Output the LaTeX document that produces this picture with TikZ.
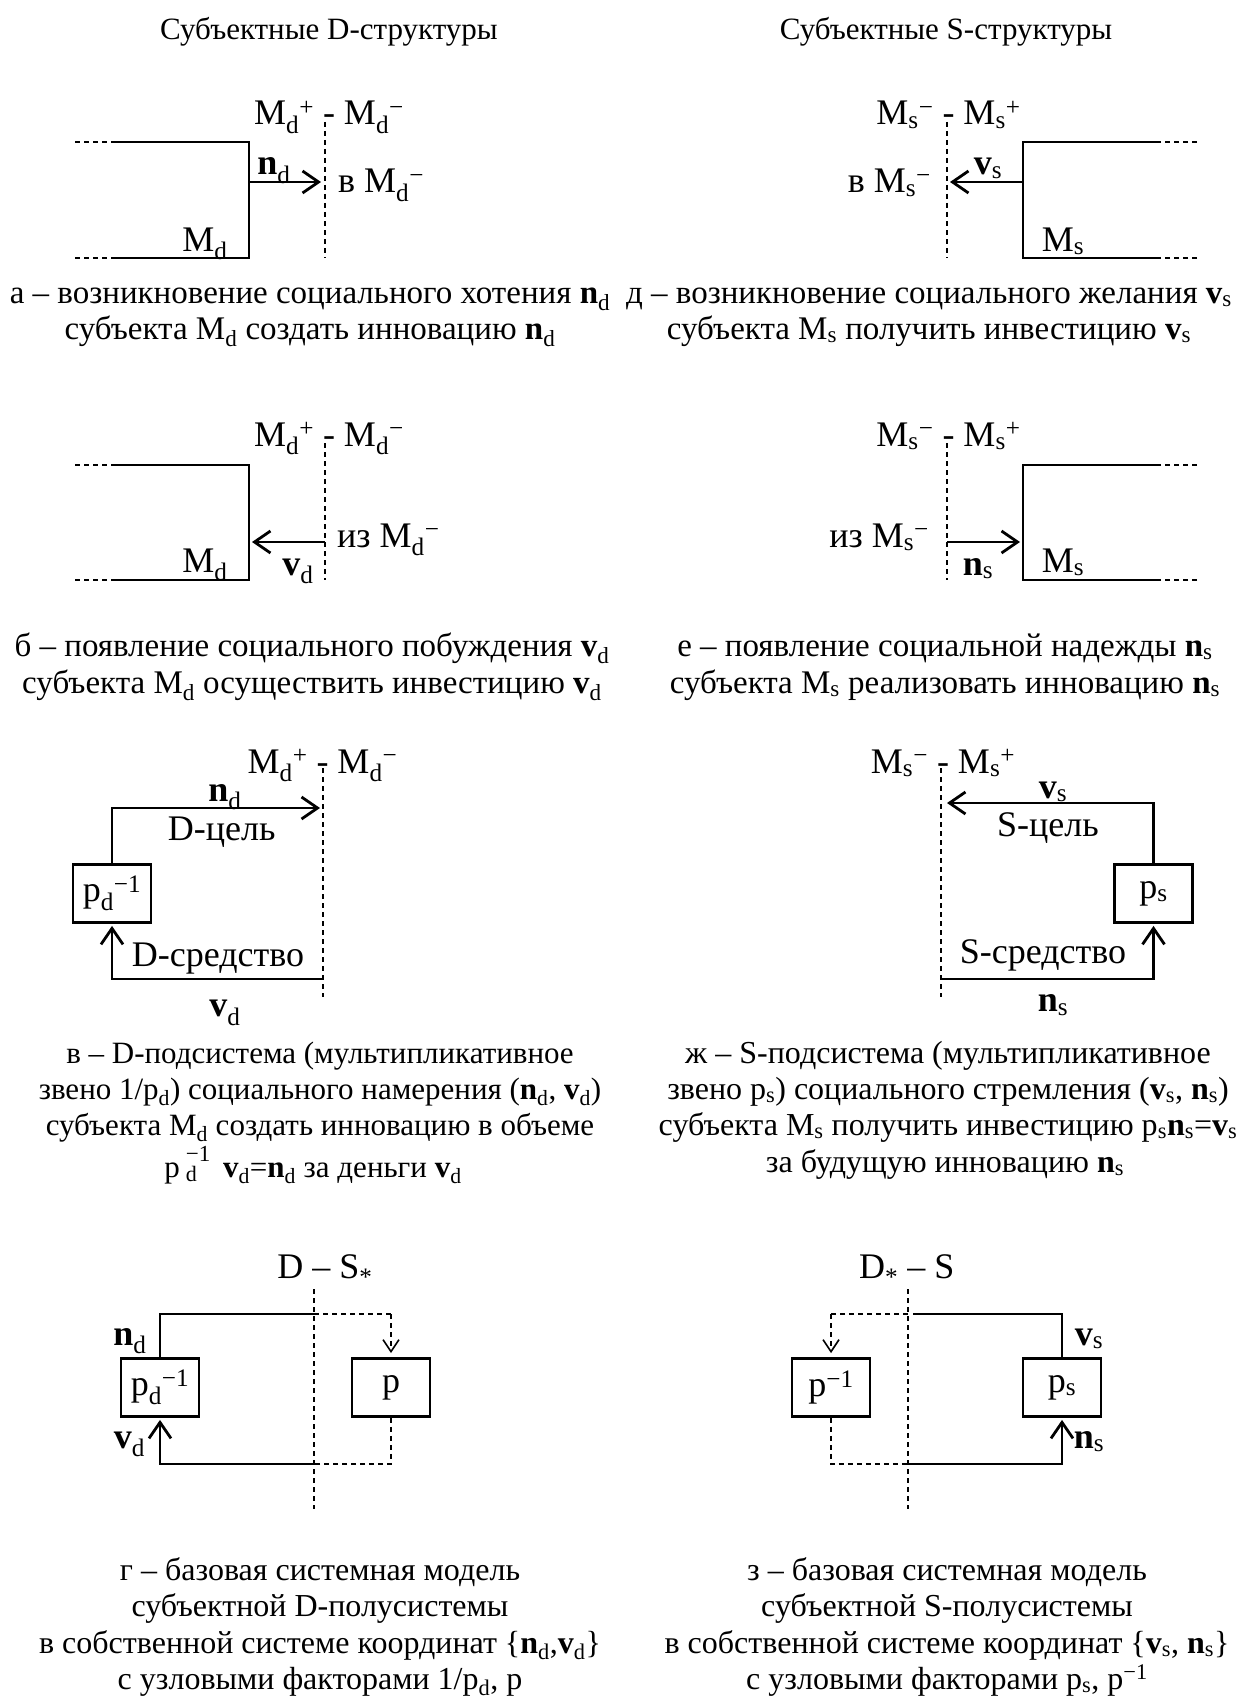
\documentclass[tikz,border=0pt]{standalone}
\usepackage{fontspec}
\setmainfont{Liberation Serif}
\usetikzlibrary{arrows.meta}
\newcommand{\sbs}[1]{\textsubscript{#1}}
\newcommand{\sps}[1]{\textsuperscript{#1}}
\newcommand{\bn}{\textbf{n}}
\newcommand{\bv}{\textbf{v}}
\newcommand{\smallfs}{\fontsize{22}{22}\selectfont}
\newcommand{\supfs}{\fontsize{23}{23}\selectfont}
\begin{document}
\begin{tikzpicture}[x=1pt,y=-1pt,
  sl/.style={line width=2.8pt},
  dl/.style={line width=1.2pt, dash pattern=on 5pt off 4pt},
  ar/.style={-{Straight Barb[length=16pt,width=22pt]}},
  dar/.style={-{Straight Barb[length=12pt,width=16pt,line width=1.6pt]}},
  lb/.style={inner sep=0pt, anchor=base, font=\fontsize{36}{42}\selectfont},
  cp/.style={inner sep=0pt, anchor=base, font=\fontsize{33}{38}\selectfont},
  cpv/.style={inner sep=0pt, anchor=base, font=\fontsize{31}{36}\selectfont},
  cpg/.style={inner sep=0pt, anchor=base, font=\fontsize{32}{37}\selectfont},
  hd/.style={inner sep=0pt, anchor=base, font=\fontsize{31}{36}\selectfont},
  bx/.style={draw, line width=2.8pt, minimum width=78pt, minimum height=58pt, inner sep=0pt, font=\fontsize{36}{42}\selectfont}
]
\useasboundingbox (0,0) rectangle (1238,1699);
\fill[white] (0,0) rectangle (1238,1699);

% headers
\node[hd] (h1) at (329,40) {Субъектные D-структуры};
\node[hd] (h2) at (946,40) {Субъектные S-структуры};

% ---------- panel a ----------
\coordinate (a1) at (75,142); \coordinate (a2) at (113,142); \coordinate (a3) at (249,142);
\coordinate (a4) at (249,258); \coordinate (a5) at (113,258); \coordinate (a6) at (75,258);
\draw[dl] (a1)--(a2); \draw[dl] (a6)--(a5);
\draw[sl] (a2)--(a3)--(a4)--(a5);
\coordinate (a7) at (249,182); \coordinate (a8) at (321,182);
\draw[sl,ar] (a7)--(a8);
\coordinate (a9) at (325,122); \coordinate (a10) at (325,258);
\draw[dl] (a9)--(a10);
\node[lb] (al1) at (329,125) {M\sbs{d}\sps{+} - M\sbs{d}\sps{−}};
\node[lb] (al2) at (274,175) {\bn\sbs{d}};
\node[lb, anchor=base west] (al3) at (338,193) {в M\sbs{d}\sps{−}};
\node[lb] (al4) at (205,251) {M\sbs{d}};
\node[cp] (ac1) at (310,303) {а – возникновение социального хотения \bn\sbs{d}};
\node[cp] (ac2) at (310,339) {субъекта M\sbs{d} создать инновацию \bn\sbs{d}};

% ---------- panel d ----------
\coordinate (d1) at (1197,142); \coordinate (d2) at (1158,142); \coordinate (d3) at (1023,142);
\coordinate (d4) at (1023,258); \coordinate (d5) at (1158,258); \coordinate (d6) at (1197,258);
\draw[dl] (d1)--(d2); \draw[dl] (d6)--(d5);
\draw[sl] (d2)--(d3)--(d4)--(d5);
\coordinate (d7) at (1023,182); \coordinate (d8) at (950,182);
\draw[sl,ar] (d7)--(d8);
\coordinate (d9) at (947,122); \coordinate (d10) at (947,258);
\draw[dl] (d9)--(d10);
\node[lb] (dl1) at (948.5,125) {M\sbs{s}\sps{−} - M\sbs{s}\sps{+}};
\node[lb] (dl2) at (988,175) {\bv\sbs{s}};
\node[lb, anchor=base east] (dl3) at (931,193) {в M\sbs{s}\sps{−}};
\node[lb] (dl4) at (1063,251) {M\sbs{s}};
\node[cp] (dc1) at (929,303) {д – возникновение социального желания \bv\sbs{s}};
\node[cp] (dc2) at (929,339) {субъекта M\sbs{s} получить инвестицию \bv\sbs{s}};

% ---------- panel b ----------
\coordinate (b1) at (75,465); \coordinate (b2) at (113,465); \coordinate (b3) at (249,465);
\coordinate (b4) at (249,580); \coordinate (b5) at (113,580); \coordinate (b6) at (75,580);
\draw[dl] (b1)--(b2); \draw[dl] (b6)--(b5);
\draw[sl] (b2)--(b3)--(b4)--(b5);
\coordinate (b7) at (325,542); \coordinate (b8) at (252,542);
\draw[sl,ar] (b7)--(b8);
\coordinate (b9) at (325,443); \coordinate (b10) at (325,580);
\draw[dl] (b9)--(b10);
\node[lb] (bl1) at (329,446) {M\sbs{d}\sps{+} - M\sbs{d}\sps{−}};
\node[lb, anchor=base west] (bl2) at (337,547) {из M\sbs{d}\sps{−}};
\node[lb] (bl3) at (298,575) {\bv\sbs{d}};
\node[lb] (bl4) at (205,572) {M\sbs{d}};
\node[cp] (bc1) at (312,656) {б – появление социального побуждения \bv\sbs{d}};
\node[cp] (bc2) at (312,693) {субъекта M\sbs{d} осуществить инвестицию \bv\sbs{d}};

% ---------- panel e ----------
\coordinate (e1) at (1197,465); \coordinate (e2) at (1158,465); \coordinate (e3) at (1023,465);
\coordinate (e4) at (1023,580); \coordinate (e5) at (1158,580); \coordinate (e6) at (1197,580);
\draw[dl] (e1)--(e2); \draw[dl] (e6)--(e5);
\draw[sl] (e2)--(e3)--(e4)--(e5);
\coordinate (e7) at (947,542); \coordinate (e8) at (1020,542);
\draw[sl,ar] (e7)--(e8);
\coordinate (e9) at (947,443); \coordinate (e10) at (947,580);
\draw[dl] (e9)--(e10);
\node[lb] (el1) at (948.5,446) {M\sbs{s}\sps{−} - M\sbs{s}\sps{+}};
\node[lb, anchor=base east] (el2) at (929,547) {из M\sbs{s}\sps{−}};
\node[lb] (el3) at (978,575) {\bn\sbs{s}};
\node[lb] (el4) at (1063,572) {M\sbs{s}};
\node[cp] (ec1) at (945,656) {е – появление социальной надежды \bn\sbs{s}};
\node[cp] (ec2) at (945,693) {субъекта M\sbs{s} реализовать инновацию \bn\sbs{s}};

% ---------- panel v ----------
\node[lb] (vl1) at (322.5,773) {M\sbs{d}\sps{+} - M\sbs{d}\sps{−}};
\coordinate (v9) at (323,768); \coordinate (v10) at (323,997);
\draw[dl] (v9)--(v10);
\node[bx] (pdi) at (112,893.5) {p\sbs{d}\sps{−1}};
\coordinate (v2) at (320,808); \coordinate (v3) at (323,979);
\draw[sl,ar] (pdi.north) |- (v2);
\draw[sl,ar,shorten >=2pt] (v3) -| (pdi.south);
\node[lb] (vl2) at (225,801) {\bn\sbs{d}};
\node[lb] (vl3) at (221.7,840) {D-цель};
\node[lb] (vl4) at (218,966.7) {D-средство};
\node[lb] (vl5) at (225,1016.7) {\bv\sbs{d}};
\node[cpv] (vc1) at (320,1063) {в – D-подсистема (мультипликативное};
\node[cpv] (vc2) at (320,1099) {звено 1/p\sbs{d}) социального намерения (\bn\sbs{d}, \bv\sbs{d})};
\node[cpv] (vc3) at (320,1135) {субъекта M\sbs{d} создать инновацию в объеме};
\node[cpv] (vc4) at (313,1177) {p\kern6pt\rlap{\raisebox{-0.15em}{\smallfs d}}\raisebox{0.5em}{\supfs −1}\kern5pt{} \bv\sbs{d}=\bn\sbs{d} за деньги \bv\sbs{d}};

% ---------- panel zh ----------
\node[lb] (jl1) at (943,773) {M\sbs{s}\sps{−} - M\sbs{s}\sps{+}};
\coordinate (j9) at (941,768); \coordinate (j10) at (941,997);
\draw[dl] (j9)--(j10);
\node[bx] (ps) at (1153.5,893.5) {p\sbs{s}};
\coordinate (j2) at (947,803); \coordinate (j3) at (941,979);
\draw[sl,ar] (ps.north) |- (j2);
\draw[sl,ar,shorten >=2pt] (j3) -| (ps.south);
\node[lb] (jl2) at (1053,798) {\bv\sbs{s}};
\node[lb] (jl3) at (1048,836.7) {S-цель};
\node[lb] (jl4) at (1043,963) {S-средство};
\node[lb] (jl5) at (1053,1011.7) {\bn\sbs{s}};
\node[cpg] (jc1) at (948,1063) {ж – S-подсистема (мультипликативное};
\node[cpg] (jc2) at (948,1099) {звено p\sbs{s}) социального стремления (\bv\sbs{s}, \bn\sbs{s})};
\node[cpg] (jc3) at (948,1135) {субъекта M\sbs{s} получить инвестицию p\sbs{s}\bn\sbs{s}=\bv\sbs{s}};
\node[cpg] (jc4) at (945,1172) {за будущую инновацию \bn\sbs{s}};

% ---------- panel g ----------
\node[lb] (gl1) at (325,1278) {D – S\sbs{*}};
\coordinate (g9) at (314,1289); \coordinate (g10) at (314,1509);
\draw[dl] (g9)--(g10);
\node[bx] (pdg) at (160,1387.5) {p\sbs{d}\sps{−1}};
\node[bx] (pg) at (391,1387.5) {p};
\coordinate (g1) at (314,1314); \coordinate (g2) at (391,1314); \coordinate (g3) at (314,1464);
\draw[sl] (pdg.north) |- (g1);
\draw[dl] (g1) -- (g2);
\draw[dl,dar,shorten >=4pt] (g2) -- (pg.north);
\draw[sl,ar,shorten >=2pt] (g3) -| (pdg.south);
\draw[dl] (pg.south) |- (g3);
\node[lb] (gl2) at (130,1345) {\bn\sbs{d}};
\node[lb] (gl3) at (129.5,1448) {\bv\sbs{d}};
\node[cpg] (gc1) at (320,1580) {г – базовая системная модель};
\node[cpg] (gc2) at (320,1616) {субъектной D-полусистемы};
\node[cpg] (gc3) at (320,1653) {в собственной системе координат \{\bn\sbs{d},\bv\sbs{d}\}};
\node[cpg] (gc4) at (320,1689) {с узловыми факторами 1/p\sbs{d}, p};

% ---------- panel z ----------
\node[lb] (zl1) at (906.7,1278) {D\sbs{*} – S};
\coordinate (z9) at (908,1289); \coordinate (z10) at (908,1509);
\draw[dl] (z9)--(z10);
\node[bx] (pinv) at (831,1387.5) {p\sps{−1}};
\node[bx] (psz) at (1062,1387.5) {p\sbs{s}};
\coordinate (z0) at (908,1314); \coordinate (z1) at (913,1314); \coordinate (z2) at (831,1314); \coordinate (z3) at (908,1464);
\draw[sl] (z1) -| (psz.north);
\draw[dl] (z0) -- (z2);
\draw[dl,dar,shorten >=4pt] (z2) -- (pinv.north);
\draw[dl] (pinv.south) |- (z3);
\draw[sl,ar,shorten >=2pt] (z3) -| (psz.south);
\node[lb] (zl2) at (1089,1345) {\bv\sbs{s}};
\node[lb] (zl3) at (1089,1448) {\bn\sbs{s}};
\node[cpg] (zc1) at (947,1580) {з – базовая системная модель};
\node[cpg] (zc2) at (947,1616) {субъектной S-полусистемы};
\node[cpg] (zc3) at (947,1653) {в собственной системе координат \{\bv\sbs{s}, \bn\sbs{s}\}};
\node[cpg] (zc4) at (947,1689) {с узловыми факторами p\sbs{s}, p\sps{−1}};
\end{tikzpicture}
\end{document}
